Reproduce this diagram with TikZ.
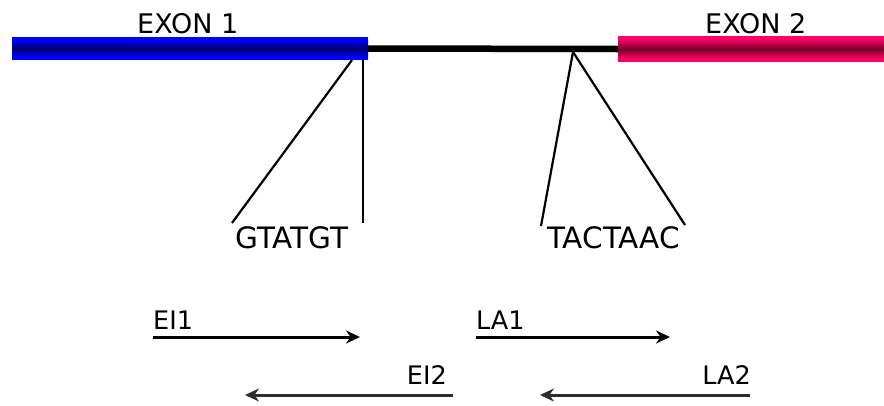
\documentclass[tikz,border=0pt]{standalone}
\usepackage{fontspec}
\setmainfont{DejaVu Sans}
\usetikzlibrary{arrows.meta}
\definecolor{exonblue}{RGB}{0,0,255}
\definecolor{exonbluecore}{RGB}{0,0,110}
\definecolor{exonpink}{RGB}{255,0,102}
\definecolor{exonpinkcore}{RGB}{120,0,45}
\definecolor{primergray}{RGB}{45,45,45}
\begin{document}
\begin{tikzpicture}[x=1pt,y=-1pt,
  exonbar/.style 2 args={draw=none,inner sep=0,outer sep=0,
    path picture={
      \fill[#1] (path picture bounding box.south west) rectangle (path picture bounding box.north east);
      \shade[top color=#1,bottom color=#1,middle color=#2]
        ([yshift=3pt]path picture bounding box.south west) rectangle ([yshift=-3pt]path picture bounding box.north east);
    }},
  label/.style={inner sep=0,font=\fontsize{27}{27}\selectfont},
  motif/.style={inner sep=0,font=\fontsize{29.5}{29.5}\selectfont},
  primer/.style={inner sep=0,font=\fontsize{25.5}{25.5}\selectfont},
  link/.style={line width=2.2pt,black},
  fwd/.style={line width=3pt,black,-{Stealth[length=14pt,width=13pt]}},
  rev/.style={line width=3pt,primergray,-{Stealth[length=14pt,width=13pt]}},
]
\useasboundingbox (0,0) rectangle (884,405);

% exons and intron
\node[exonbar={exonblue}{exonbluecore},minimum width=356pt,minimum height=23pt] (ex1) at (190,48.5) {};
\node[exonbar={exonpink}{exonpinkcore},minimum width=266pt,minimum height=26pt] (ex2) at (751,49) {};
\draw[line width=6.5pt,black] (ex1.east) -- (ex2.west);

\node[label,anchor=base west] (t1) at (137,33) {EXON 1};
\node[label,anchor=base west] (t2) at (705,33) {EXON 2};

% splice site and branch point motifs
\node[motif,anchor=base west] (gt) at (235,248) {GTATGT};
\node[motif,anchor=base west] (ta) at (547,248) {TACTAAC};

\coordinate (d1) at (352,60);
\coordinate (d2) at (363,60);
\coordinate (bp) at (573,52);
\coordinate (gtl) at (232,223);
\coordinate (gtr) at (363,223);
\coordinate (tal) at (541,226);
\coordinate (tar) at (685,225);
\draw[link] (d1) -- (gtl);
\draw[link] (d2) -- (gtr);
\draw[link] (bp) -- (tal);
\draw[link] (bp) -- (tar);

% primers
\node[primer,anchor=base west] (ei1) at (153,329) {EI1};
\node[primer,anchor=base west] (la1) at (476,329) {LA1};
\node[primer,anchor=base east] (ei2) at (447,384) {EI2};
\node[primer,anchor=base east] (la2) at (751,384) {LA2};

\coordinate (ei1e) at (360,337);
\coordinate (la1e) at (670,337);
\coordinate (ei2s) at (453,395);
\coordinate (ei2e) at (245,395);
\coordinate (la2s) at (750,395);
\coordinate (la2e) at (540,395);
\draw[fwd] (ei1.west |- ei1e) -- (ei1e);
\draw[fwd] (la1.west |- la1e) -- (la1e);
\draw[rev] (ei2s) -- (ei2e);
\draw[rev] (la2s) -- (la2e);
\end{tikzpicture}
\end{document}
